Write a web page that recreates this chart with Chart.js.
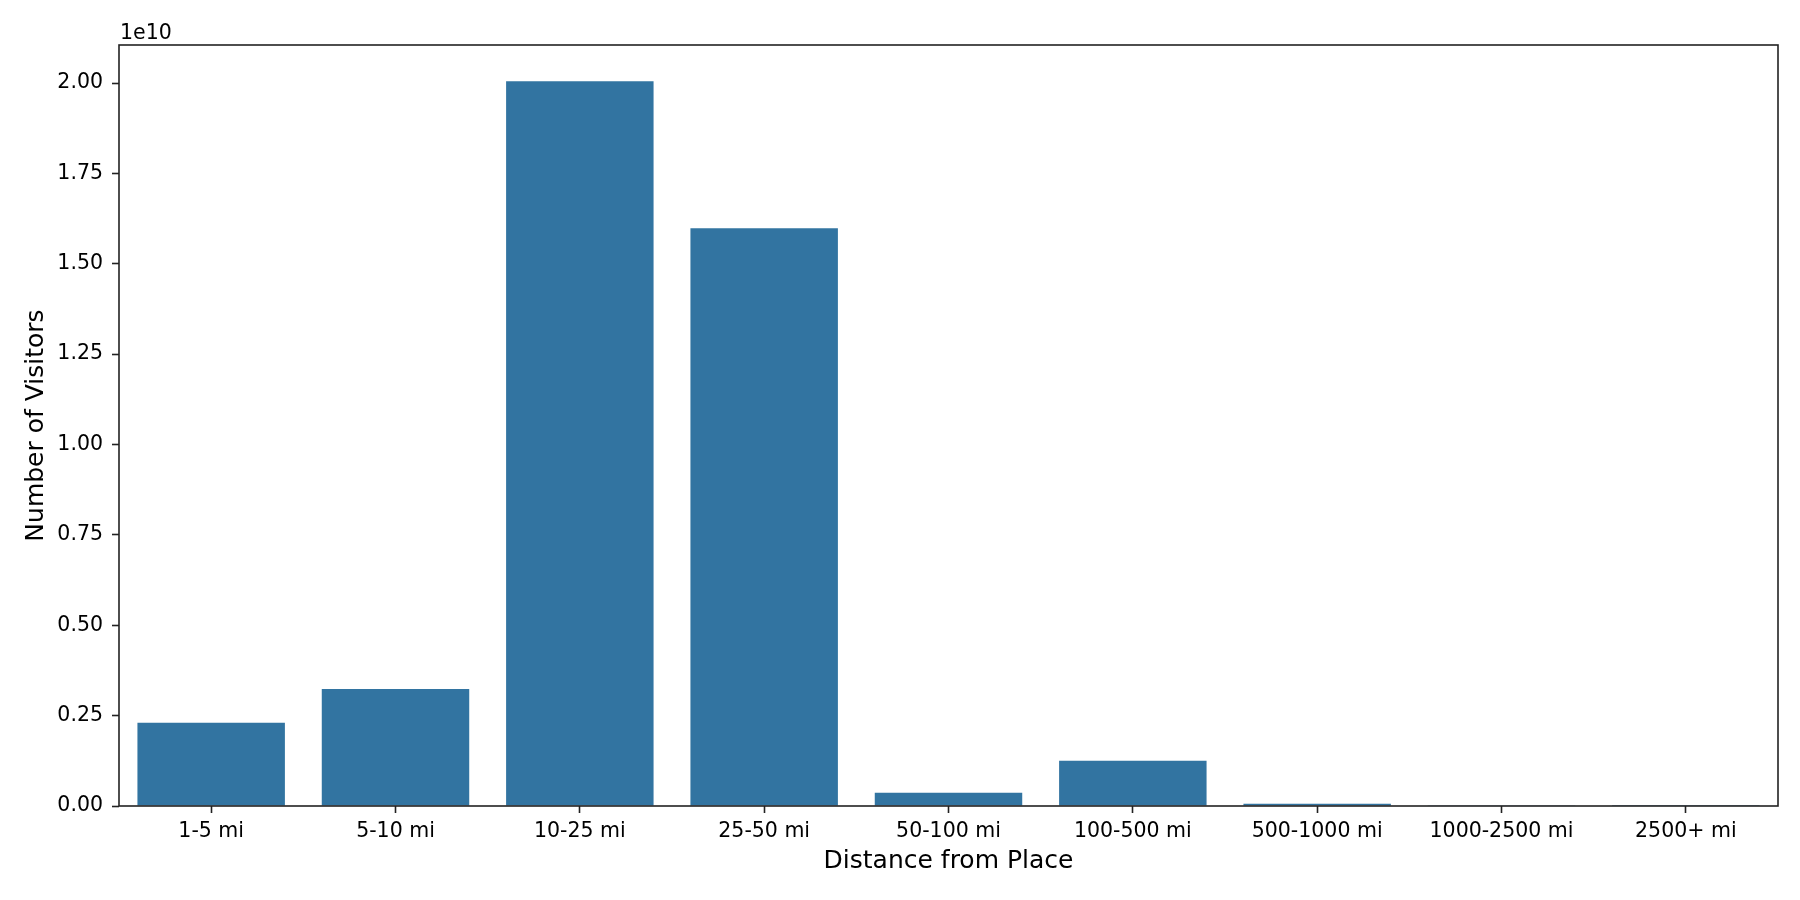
<!DOCTYPE html>
<html>
<head>
<meta charset="utf-8">
<script src="https://cdn.jsdelivr.net/npm/chart.js@4.4.1/dist/chart.umd.min.js"></script>
<style>
  html, body { margin: 0; padding: 0; background: #ffffff; }
  #wrap { width: 1800px; height: 900px; }
</style>
</head>
<body>
<div id="wrap"><canvas id="c" width="1800" height="900"></canvas></div>
<script>
const categories = ["1-5 mi", "5-10 mi", "10-25 mi", "25-50 mi", "50-100 mi", "100-500 mi", "500-1000 mi", "1000-2500 mi", "2500+ mi"];
const visitors = [2.30e9, 3.24e9, 2.005e10, 1.598e10, 3.7e8, 1.255e9, 6.5e7, 1.0e7, 2.0e6];
const yTickValues = [0, 0.25e10, 0.5e10, 0.75e10, 1.0e10, 1.25e10, 1.5e10, 1.75e10, 2.0e10];
const xTitle = "Distance from Place";
const yTitle = "Number of Visitors";
const offsetText = "1e10";

const FONT = "'DejaVu Sans', sans-serif";
const AXIS_COLOR = '#222222';

const framePlugin = {
  id: 'frame',
  afterDraw(chart) {
    const {ctx, chartArea: a} = chart;
    ctx.save();
    ctx.strokeStyle = AXIS_COLOR;
    ctx.lineWidth = 1.6;
    ctx.strokeRect(a.left, a.top, a.right - a.left, a.bottom - a.top);
    ctx.fillStyle = '#000000';
    ctx.font = "20.5px " + FONT;
    ctx.textAlign = 'left';
    ctx.textBaseline = 'alphabetic';
    ctx.fillText(offsetText, a.left + 1, a.top - 6);
    ctx.restore();
  }
};

new Chart(document.getElementById('c'), {
  type: 'bar',
  data: {
    labels: categories,
    datasets: [{
      data: visitors,
      backgroundColor: '#3274a1',
      borderWidth: 0,
      categoryPercentage: 0.8,
      barPercentage: 1.0
    }]
  },
  options: {
    responsive: false,
    animation: false,
    devicePixelRatio: 1,
    layout: { padding: { top: 45, right: 22, bottom: 0, left: 0 } },
    plugins: {
      legend: { display: false },
      tooltip: { enabled: false },
      title: { display: false }
    },
    scales: {
      x: {
        type: 'category',
        offset: true,
        grid: {
          display: true,
          offset: false,
          drawOnChartArea: false,
          drawTicks: true,
          tickLength: 7,
          tickWidth: 1.6,
          tickColor: AXIS_COLOR
        },
        border: { display: false },
        ticks: {
          color: '#000000',
          font: { family: FONT, size: 20.5 },
          padding: 6,
          maxRotation: 0,
          autoSkip: false
        },
        title: {
          display: true,
          text: xTitle,
          color: '#000000',
          font: { family: FONT, size: 25 },
          padding: { top: 0, bottom: 24 }
        },
        afterFit(scale) { scale.height = 94; }
      },
      y: {
        type: 'linear',
        min: 0,
        max: Math.max(...visitors) * 1.05,
        grid: {
          display: true,
          drawOnChartArea: false,
          drawTicks: true,
          tickLength: 7,
          tickWidth: 1.6,
          tickColor: AXIS_COLOR
        },
        border: { display: false },
        afterBuildTicks(scale) {
          scale.ticks = yTickValues.map(v => ({ value: v }));
        },
        ticks: {
          color: '#000000',
          font: { family: FONT, size: 20.5 },
          padding: 9,
          callback: (v) => (v / 1e10).toFixed(2)
        },
        title: {
          display: true,
          text: yTitle,
          color: '#000000',
          font: { family: FONT, size: 25 },
          padding: { top: 21, bottom: 0 }
        },
        afterFit(scale) { scale.width = 119; }
      }
    }
  },
  plugins: [framePlugin]
});
</script>
</body>
</html>
